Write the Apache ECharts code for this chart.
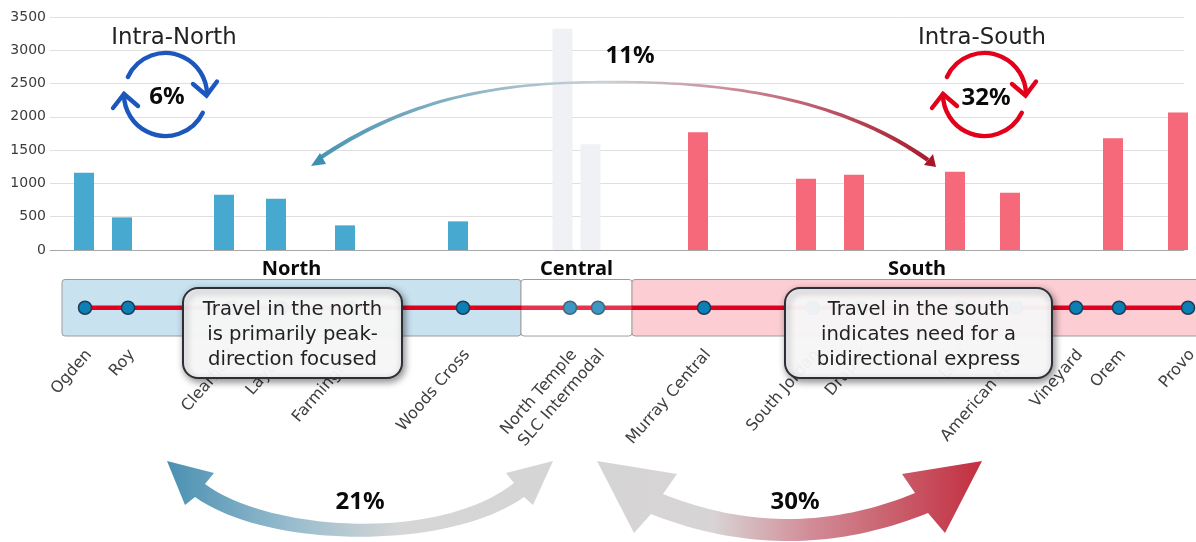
<!DOCTYPE html>
<html>
<head>
<meta charset="utf-8">
<style>html,body{margin:0;padding:0;background:#fff}#chart{width:1196px;height:542px}</style>
<script src="https://cdn.jsdelivr.net/npm/echarts@6/dist/echarts.min.js"></script>
</head>
<body>
<div id="chart"></div>
<script>
// FrontRunner stations, north to south
const stations = ['Ogden','Roy','Clearfield','Layton','Farmington','Woods Cross','North Temple','SLC Intermodal','Murray Central','South Jordan','Draper','Lehi','American Fork','Vineyard','Orem','Provo'];
// Position of each stop along the corridor strip
const stationPos = [35,78,181,231,301,413,520,548,654,763,811,911,966,1026,1069,1138];
// Position of each boarding bar along the same scale
const barPos = [34,72,174,226,295,408,512.5,540.5,648,756,804,905,960,null,1063,1128];
const boardings = [1160,490,830,770,370,430,3325,1590,1770,1070,1130,1175,860,null,1680,2065];
const stationRegion = ['north','north','north','north','north','north','central','central','south','south','south','south','south','south','south','south'];
const yTicks = {min:0,max:3500,step:500};

const regionNames = ['North','Central','South'];
const regionStart = [12,471,582];
const regionEnd = [471,582,1152];

const shareIntraNorth = '6%';
const shareIntraSouth = '32%';
const shareNorthSouth = '11%';
const shareNorthCentral = '21%';
const shareCentralSouth = '30%';
const calloutNorth = 'Travel in the north\nis primarily peak-\ndirection focused';
const calloutSouth = 'Travel in the south\nindicates need for a\nbidirectional express';

const barColors = {north:'#47a9cf',central:'#eff1f5',south:'#f6697a'};
const regionFill = ['#c9e2f0','#ffffff','#fccdd3'];
const LABEL_FONT = '"DejaVu Sans", sans-serif';
const BOLD_FONT = '"Noto Sans", sans-serif';
const labelNudge = 4;

const chart = echarts.init(document.getElementById('chart'), null, {renderer:'canvas'});

function hGrad(x0, x1, stops){
  return {type:'linear',x:x0,y:0,x2:x1,y2:0,global:true,
    colorStops:stops.map(s=>({offset:s[0],color:s[1]}))};
}
const deg = d => d*Math.PI/180;

// Quadratic and cubic curve helpers for the flow arrows
function quad(p0, c, p1){
  const pts = [];
  for (let k = 0; k <= 40; k++) {
    const t = k/40, u = 1-t;
    pts.push([u*u*p0[0]+2*u*t*c[0]+t*t*p1[0], u*u*p0[1]+2*u*t*c[1]+t*t*p1[1]]);
  }
  return pts;
}
function cubic(p0, c0, c1, p1){
  const pts = [];
  for (let k = 0; k <= 40; k++) {
    const t = k/40, u = 1-t;
    pts.push([u*u*u*p0[0]+3*u*u*t*c0[0]+3*u*t*t*c1[0]+t*t*t*p1[0],
              u*u*u*p0[1]+3*u*u*t*c0[1]+3*u*t*t*c1[1]+t*t*t*p1[1]]);
  }
  return pts;
}
// Outline of a curve that is thin in the middle and swells toward both ends
function taperedRibbon(pts, thin, thick){
  const upper = [], lower = [];
  pts.forEach((p,i)=>{
    const a = pts[Math.max(i-1,0)], b = pts[Math.min(i+1,pts.length-1)];
    const dx = b[0]-a[0], dy = b[1]-a[1], len = Math.hypot(dx,dy) || 1;
    const s = Math.abs(2*i/(pts.length-1)-1);
    const w = (thin+(thick-thin)*s*s)/2;
    upper.push([p[0]+dy/len*w,p[1]-dx/len*w]);
    lower.push([p[0]-dy/len*w,p[1]+dx/len*w]);
  });
  return upper.concat(lower.reverse());
}

// Circular "within region" arrows around a share figure
function cycleArrow(cx, cy, color){
  const line = {stroke:color,lineWidth:4.4,fill:null,lineCap:'round',lineJoin:'miter'};
  return [
    {type:'arc',z:20,shape:{cx,cy,r:41.5,startAngle:deg(-155),endAngle:deg(0),clockwise:true},style:line},
    {type:'arc',z:20,shape:{cx,cy,r:41.5,startAngle:deg(26),endAngle:deg(180),clockwise:true},style:line},
    {type:'polyline',z:20,shape:{points:[[cx+27.5,cy-10.5],[cx+41,cy+1],[cx+51.5,cy-13]]},style:line},
    {type:'polyline',z:20,shape:{points:[[cx-52.5,cy+13.5],[cx-41.5,cy-0.5],[cx-27.5,cy+11.5]]},style:line}
  ];
}
function boldText(text, x, y, size){
  return {type:'text',z:30,style:{text,x,y,align:'center',verticalAlign:'middle',
    font:'bold '+size+'px '+BOLD_FONT,fill:'#0a0a0a'}};
}
function plainText(text, x, y){
  return {type:'text',z:30,style:{text,x,y,align:'center',verticalAlign:'middle',
    font:'22.8px '+LABEL_FONT,fill:'#222'}};
}
function callout(text, x, y, w, h){
  return [
    {type:'rect',z:40,shape:{x,y,width:w,height:h,r:15},
      style:{fill:'rgba(252,252,252,0.94)',stroke:'#2c2f36',lineWidth:2,
        shadowBlur:7,shadowOffsetX:2,shadowOffsetY:3,shadowColor:'rgba(0,0,0,0.45)'}},
    {type:'text',z:41,style:{text,x:x+w/2,y:y+h/2+2,align:'center',verticalAlign:'middle',
      font:'19.6px '+LABEL_FONT,lineHeight:25.3,fill:'#222'}}
  ];
}

const arrowNorthCentral = [[167,461],[214,473],
  ...cubic([205,484],[270,532],[440,542],[514,483]),
  [506,473],[553,461],[533,505],
  ...cubic([524,497],[450,550],[270,550],[195,497]),
  [185,505]];
const arrowCentralSouth = [[597,461],[677,474],
  ...quad([663,494],[789,544.5],[915,493]),
  [902,474],[982,461],[945,533],
  ...quad([928,513],[789.5,568.5],[651,514]),
  [634,533]];
const arcNorthSouth = [...cubic([320,158],[420,90],[520,82],[613,82]),
  ...cubic([613,82],[700,82],[830,90],[928,160]).slice(1)];

const graphics = [
  {type:'polygon',z:10,shape:{points:arrowNorthCentral},
    style:{fill:hGrad(167,553,[[0,'#4a90b2'],[0.32,'#97bccd'],[0.6,'#d5d6d6'],[1,'#d5d5d5']])}},
  {type:'polygon',z:10,shape:{points:arrowCentralSouth},
    style:{fill:hGrad(597,982,[[0,'#d5d5d5'],[0.3,'#d8d4d5'],[0.55,'#d28d98'],[1,'#c22f40']])}},
  {type:'polygon',z:25,shape:{points:taperedRibbon(arcNorthSouth,2.4,4.4)},
    style:{fill:hGrad(320,930,[[0,'#4b95b4'],[0.47,'#ccd2d5'],[0.7,'#c98392'],[1,'#a91a2c']])}},
  {type:'polygon',z:25,shape:{points:[[311,166],[320,153],[326,164]]},style:{fill:'#3f8fb0'}},
  {type:'polygon',z:25,shape:{points:[[936,167],[933,154],[924,165]]},style:{fill:'#a81627'}},
  ...cycleArrow(165.5,94.5,'#1c57bd'),
  ...cycleArrow(984.5,94.5,'#e2001a'),
  plainText('Intra-North',174,38),
  plainText('Intra-South',982,38),
  boldText(shareIntraNorth,167,97,24),
  boldText(shareIntraSouth,986,98,24),
  boldText(shareNorthSouth,630,56,24),
  boldText(shareNorthCentral,360,502,24),
  boldText(shareCentralSouth,795,502,24),
  ...callout(calloutNorth,183,288,219,90),
  ...callout(calloutSouth,785,288,267,90)
];

const barData = [];
stations.forEach((s,i)=>{
  if (boardings[i] !== null) {
    barData.push({name:s,value:[barPos[i],boardings[i]],itemStyle:{color:barColors[stationRegion[i]]}});
  }
});

function renderRegion(params, api){
  const a = api.coord([api.value(0),1]);
  const b = api.coord([api.value(1),-1]);
  const i = params.dataIndex;
  return {type:'group',children:[
    {type:'rect',shape:{x:a[0],y:a[1],width:b[0]-a[0],height:b[1]-a[1],r:3},
      style:{fill:regionFill[i],stroke:'#9c9c9c',lineWidth:1}},
    {type:'text',style:{text:regionNames[i],x:(a[0]+b[0])/2,y:a[1]-10,align:'center',verticalAlign:'middle',
      font:'bold 20px '+BOLD_FONT,fill:'#0a0a0a'}}
  ]};
}
// Veil that fades the line and stops inside the central zone
function renderVeil(params, api){
  const a = api.coord([api.value(0),1]);
  const b = api.coord([api.value(1),-1]);
  return {type:'rect',shape:{x:a[0]+0.5,y:a[1]+0.5,width:b[0]-a[0]-1,height:b[1]-a[1]-1,r:3},
    style:{fill:'rgba(255,255,255,0.2)'}};
}

chart.setOption({
  animation:false,
  backgroundColor:'#fff',
  grid:[
    {left:50,top:17,width:1134,height:233,outerBoundsMode:'none'},
    {left:50,top:279.5,width:1146,height:56.5,outerBoundsMode:'none'}
  ],
  xAxis:[
    {gridIndex:0,type:'value',min:0,max:1134,axisLabel:{show:false},axisTick:{show:false},splitLine:{show:false},
      axisLine:{show:true,lineStyle:{color:'#a8a8a8',width:1}}},
    {gridIndex:1,type:'value',min:0,max:1146,position:'bottom',axisLine:{show:false},axisTick:{show:false},splitLine:{show:false},
      axisLabel:{show:true,customValues:stationPos.map(v=>v+labelNudge),rotate:49,margin:16,
        fontFamily:LABEL_FONT,fontSize:16,color:'#404040',
        formatter:v=>stations[stationPos.indexOf(v-labelNudge)]}}
  ],
  yAxis:[
    {gridIndex:0,type:'value',min:yTicks.min,max:yTicks.max,interval:yTicks.step,
      axisLine:{show:false},axisTick:{show:false},
      axisLabel:{margin:4,fontFamily:LABEL_FONT,fontSize:14,color:'#3c3c3c',formatter:v=>String(v)},
      splitLine:{lineStyle:{color:'#dfdfdf',width:1}}},
    {gridIndex:1,type:'value',min:-1,max:1,show:false}
  ],
  series:[
    {type:'bar',xAxisIndex:0,yAxisIndex:0,data:barData,barWidth:20,clip:false,z:3},
    {type:'custom',xAxisIndex:1,yAxisIndex:1,clip:false,z:2,silent:true,renderItem:renderRegion,
      encode:{x:[0,1]},data:regionStart.map((s,i)=>[s,regionEnd[i]])},
    {type:'line',xAxisIndex:1,yAxisIndex:1,z:4,clip:false,symbol:'circle',symbolSize:13,
      lineStyle:{color:'#e2001f',width:4.5},
      itemStyle:{color:'#0c7fb4',borderColor:'#1c3c58',borderWidth:1.5},
      data:stationPos.map(x=>[x,0])},
    {type:'custom',xAxisIndex:1,yAxisIndex:1,clip:false,z:5,silent:true,renderItem:renderVeil,
      encode:{x:[0,1]},data:[[regionStart[1],regionEnd[1]]]}
  ],
  graphic:{elements:graphics}
});
</script>
</body>
</html>
